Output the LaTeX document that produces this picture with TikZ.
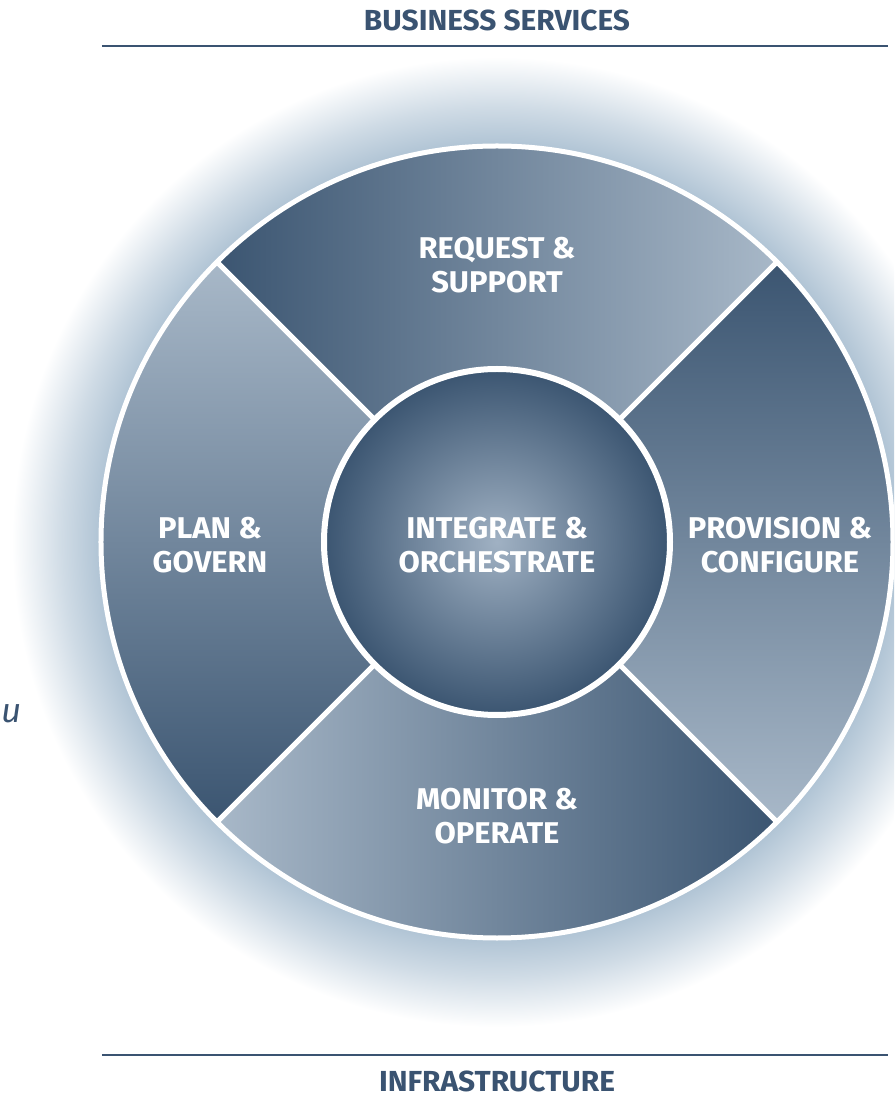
\documentclass[tikz,border=0pt]{standalone}
\usepackage{fontspec}
\usepackage{tikz}
\usetikzlibrary{math}
\newfontfamily\labelfont{Fira Sans}[FakeStretch=1.03]
\definecolor{ring-dark}{HTML}{3B5571}
\definecolor{ring-light}{HTML}{A8B8C8}
\definecolor{core-light}{HTML}{A0B1C3}
\definecolor{glow-blue}{HTML}{AFC3D4}
\definecolor{title-blue}{HTML}{3A5371}
\newcommand{\segfont}{\labelfont\bfseries\fontsize{30}{34}\selectfont}
\newcommand{\bandfont}{\labelfont\bfseries\fontsize{29}{34}\selectfont}

\pgfdeclareradialshading{ringglow}{\pgfpoint{0bp}{0bp}}{%
  color(0bp)=(glow-blue); color(20.4bp)=(glow-blue); color(22.4bp)=(glow-blue!60!white); color(25bp)=(white); color(50bp)=(white)}
\pgfdeclareradialshading{coreglow}{\pgfpoint{0bp}{0bp}}{%
  color(0bp)=(core-light); color(25bp)=(ring-dark); color(50bp)=(ring-dark)}

\begin{document}
\begin{tikzpicture}[x=1pt,y=1pt,
    seglabel/.style={text=white,font=\segfont,align=center},
    bandtitle/.style={text=title-blue,font=\bandfont,inner sep=0pt}]

% Position settings
\tikzmath{
    % Ring radii
    \rout = 396;
    \rin = 173;
    \rglow = 485;
    % Band lines
    \ytop = 496;
    \ybot = -513;
    \xlineL = -395;
    \xlineR = 391;
}

% Fixes the page
\clip (-497,-557) rectangle (397,542);

% Draws the glow behind the ring
\shade[shading=ringglow] (0,0) circle (\rglow);

% Draws the four segments, dark to light going clockwise
\shade[left color=ring-dark,right color=ring-light]
    (45:\rout) arc[start angle=45,end angle=135,radius=\rout] -- (135:\rin) arc[start angle=135,end angle=45,radius=\rin] -- cycle;
\shade[top color=ring-dark,bottom color=ring-light]
    (-45:\rout) arc[start angle=-45,end angle=45,radius=\rout] -- (45:\rin) arc[start angle=45,end angle=-45,radius=\rin] -- cycle;
\shade[left color=ring-light,right color=ring-dark]
    (225:\rout) arc[start angle=225,end angle=315,radius=\rout] -- (315:\rin) arc[start angle=315,end angle=225,radius=\rin] -- cycle;
\shade[top color=ring-light,bottom color=ring-dark]
    (135:\rout) arc[start angle=135,end angle=225,radius=\rout] -- (225:\rin) arc[start angle=225,end angle=135,radius=\rin] -- cycle;

% White borders between the segments
\draw[white,line width=5pt] (0,0) circle (\rout);
\foreach \a in {45,135,225,315}
    \draw[white,line width=5pt] (\a:\rin) -- (\a:\rout);

% Draws the core
\shade[shading=coreglow] (0,0) circle (\rin);
\draw[white,line width=6pt] (0,0) circle (\rin);

% Labels
\node[seglabel] (request) at (0,277) {REQUEST \&\\SUPPORT};
\node[seglabel] (plan) at (-287,-3) {PLAN \&\\GOVERN};
\node[seglabel] (integrate) at (0,-3) {INTEGRATE \&\\ORCHESTRATE};
\node[seglabel] (provision) at (283,-3) {PROVISION \&\\CONFIGURE};
\node[seglabel] (monitor) at (0,-274) {MONITOR \&\\OPERATE};

% Band lines and titles
\coordinate (topL) at (\xlineL,\ytop);
\coordinate (topR) at (\xlineR,\ytop);
\coordinate (botL) at (\xlineL,\ybot);
\coordinate (botR) at (\xlineR,\ybot);
\draw[title-blue,line width=2.5pt] (topL) -- (topR);
\draw[title-blue,line width=2.5pt] (botL) -- (botR);
\node[bandtitle] (business) at (0,522) {BUSINESS SERVICES};
\node[bandtitle] (infra) at (0,-539) {INFRASTRUCTURE};

% Stray glyph on the left
\node[text=title-blue,font=\labelfont\itshape\fontsize{34}{34}\selectfont] (stray) at (-485,-172) {u};

\end{tikzpicture}
\end{document}
